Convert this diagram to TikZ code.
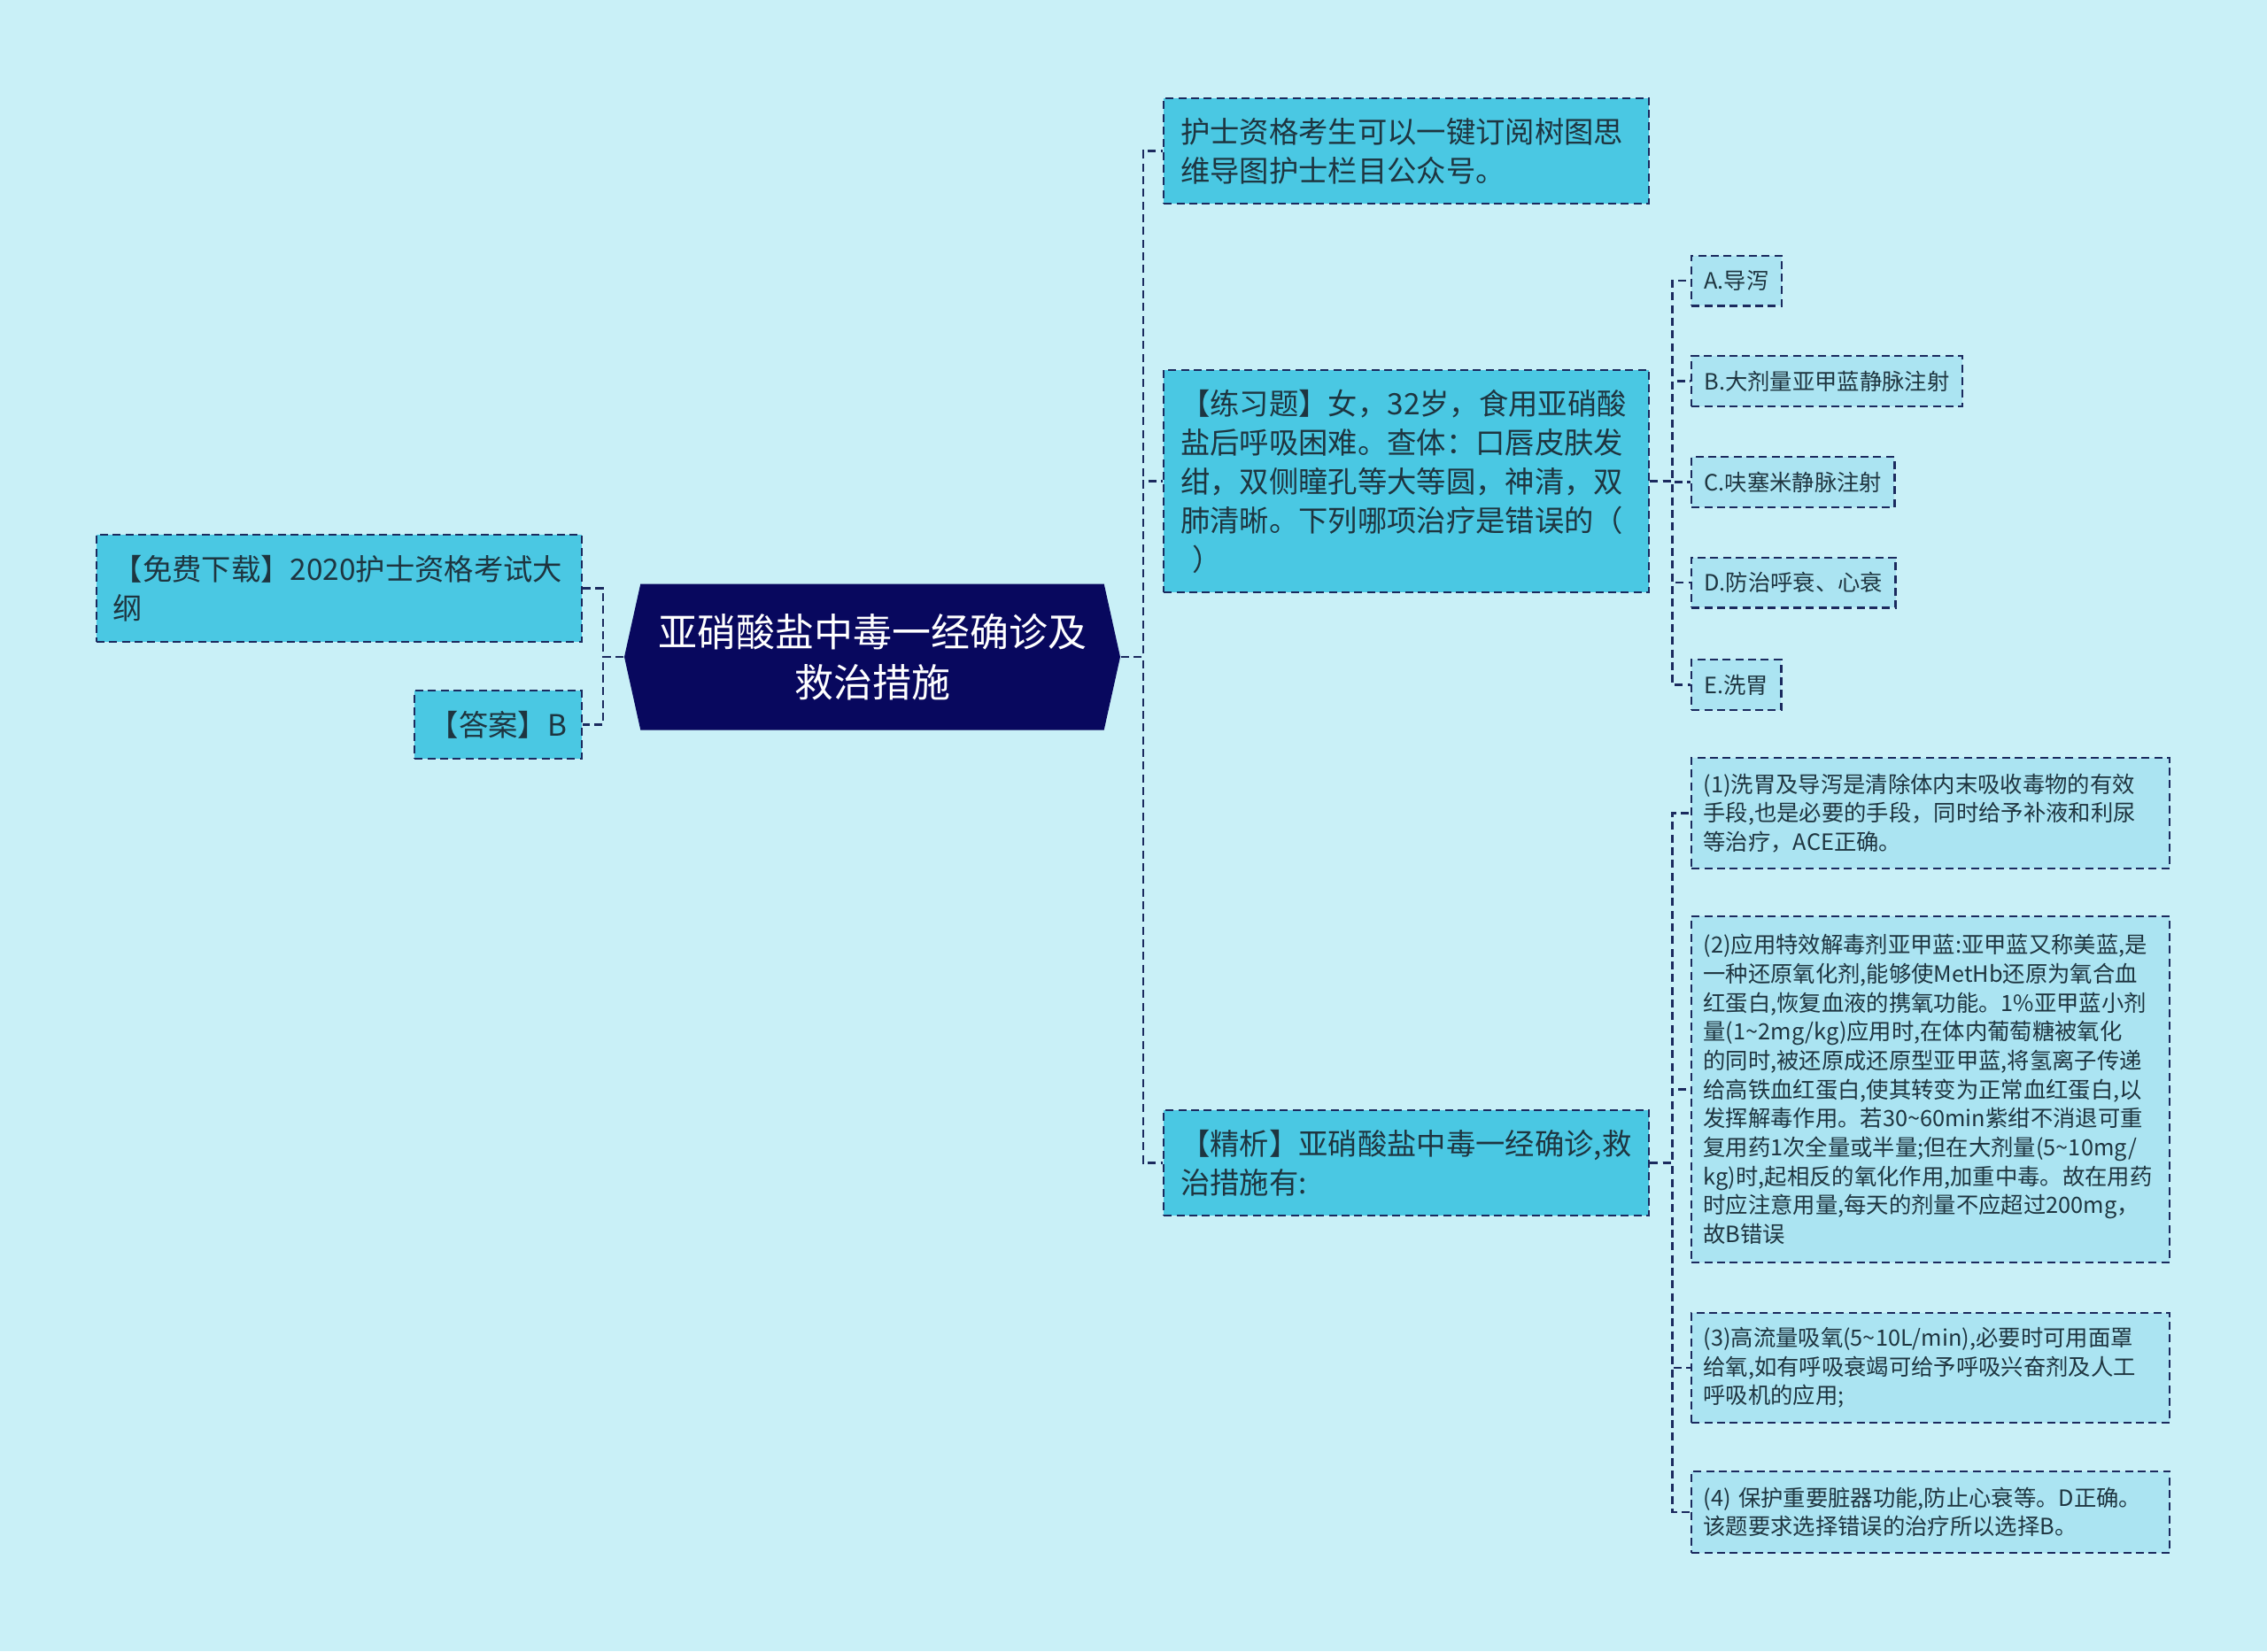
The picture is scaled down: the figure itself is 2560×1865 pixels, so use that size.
\documentclass[tikz,border=0pt]{standalone}
\usepackage{fontspec}
\setmainfont{Noto Sans CJK SC}
\usetikzlibrary{shapes.symbols}

\definecolor{bgcol}{HTML}{C9F0F7}
\definecolor{rootcol}{HTML}{08085E}
\definecolor{midcol}{HTML}{4AC8E3}
\definecolor{leafcol}{HTML}{ABE4F2}
\definecolor{linecol}{HTML}{1B2A5E}
\definecolor{txtcol}{HTML}{1E3540}

\begin{document}
\begin{tikzpicture}[x=0.3pt, y=-0.3pt]
    \tikzstyle{every node} = [rectangle, text=txtcol, inner ysep=0pt]
    \tikzstyle{box} = [draw=linecol, line width=0.7pt, dash pattern=on 2.7pt off 1.6pt]
    \tikzstyle{link} = [draw=linecol, line width=0.7pt, dash pattern=on 2.7pt off 1.6pt]
    \tikzstyle{root} = [signal, signal to=west and east, signal pointer angle=155,
        fill=rootcol, text=white, align=center, minimum width=168pt, minimum height=49.5pt,
        font=\fontsize{13.2}{17}\selectfont]
    \tikzstyle{topic} = [box, fill=midcol, text width=153pt, inner xsep=5.7pt, align=left,
        font=\fontsize{10}{13.2}\selectfont]
    \tikzstyle{answer} = [box, fill=midcol, inner xsep=5pt, minimum height=23.1pt,
        font=\fontsize{10}{13.2}\selectfont]
    \tikzstyle{option} = [box, fill=leafcol, inner xsep=4.3pt, minimum height=17pt, anchor=west,
        font=\fontsize{7.6}{9.8}\selectfont]
    \tikzstyle{note} = [box, fill=leafcol, text width=154pt, inner xsep=4pt, align=left, anchor=west,
        font=\fontsize{7.6}{9.8}\selectfont]

    \fill[bgcol] (0,0) rectangle (2560,1865);

    \node (a) at (985, 742) [root] {亚硝酸盐中毒一经确诊及\\救治措施};

    \node (b) at (658, 664.5) [topic, anchor=east, minimum height=36.3pt] {【免费下载】2020护士资格考试大\\纲};
    \node (c) at (658, 818.5) [answer, anchor=east] {【答案】B};

    \node (d) at (1313, 170.5) [topic, anchor=west, minimum height=35.7pt] {护士资格考生可以一键订阅树图思\\维导图护士栏目公众号。};
    \node (e) at (1313, 543.5) [topic, anchor=west, minimum height=75.3pt] {【练习题】女，32岁，食用亚硝酸\\盐后呼吸困难。查体：口唇皮肤发\\绀，双侧瞳孔等大等圆，神清，双\\肺清晰。下列哪项治疗是错误的（\\\hspace*{0.4em}）};
    \node (f) at (1313, 1313.5) [topic, anchor=west, minimum height=35.7pt] {【精析】亚硝酸盐中毒一经确诊,救\\治措施有:};

    \node (g) at (1909, 317) [option] {A.导泻};
    \node (h) at (1909, 430.5) [option] {B.大剂量亚甲蓝静脉注射};
    \node (i) at (1909, 544.5) [option] {C.呋塞米静脉注射};
    \node (j) at (1909, 658) [option] {D.防治呼衰、心衰};
    \node (k) at (1909, 773.5) [option] {E.洗胃};

    \node (l) at (1909, 918.5) [note, minimum height=37.5pt] {(1)洗胃及导泻是清除体内末吸收毒物的有效\\手段,也是必要的手段，同时给予补液和利尿\\等治疗，ACE正确。};
    \node (m) at (1909, 1230.5) [note, minimum height=117.3pt] {(2)应用特效解毒剂亚甲蓝:亚甲蓝又称美蓝,是\\一种还原氧化剂,能够使MetHb还原为氧合血\\红蛋白,恢复血液的携氧功能。1\%亚甲蓝小剂\\量(1\textasciitilde 2mg/kg)应用时,在体内葡萄糖被氧化\\的同时,被还原成还原型亚甲蓝,将氢离子传递\\给高铁血红蛋白,使其转变为正常血红蛋白,以\\发挥解毒作用。若30\textasciitilde 60min紫绀不消退可重\\复用药1次全量或半量;但在大剂量(5\textasciitilde 10mg/\\kg)时,起相反的氧化作用,加重中毒。故在用药\\时应注意用量,每天的剂量不应超过200mg，\\故B错误};
    \node (n) at (1909, 1545) [note, minimum height=37.2pt] {(3)高流量吸氧(5\textasciitilde 10L/min),必要时可用面罩\\给氧,如有呼吸衰竭可给予呼吸兴奋剂及人工\\呼吸机的应用;};
    \node (o) at (1909, 1708) [note, minimum height=27.6pt] {(4) 保护重要脏器功能,防止心衰等。D正确。\\该题要求选择错误的治疗所以选择B。};

    \draw [link] (a.west) -- ++(-23,0) |- (b.east);
    \draw [link] (a.west) -- ++(-23,0) |- (c.east);

    \draw [link] (a.east) -- ++(25,0) |- (d.west);
    \draw [link] (a.east) -- ++(25,0) |- (e.west);
    \draw [link] (a.east) -- ++(25,0) |- (f.west);

    \foreach \x in {g,h,i,j,k}
        \draw [link] (e.east) -- ++(25,0) |- (\x.west);

    \foreach \x in {l,m,n,o}
        \draw [link] (f.east) -- ++(25,0) |- (\x.west);
\end{tikzpicture}
\end{document}
